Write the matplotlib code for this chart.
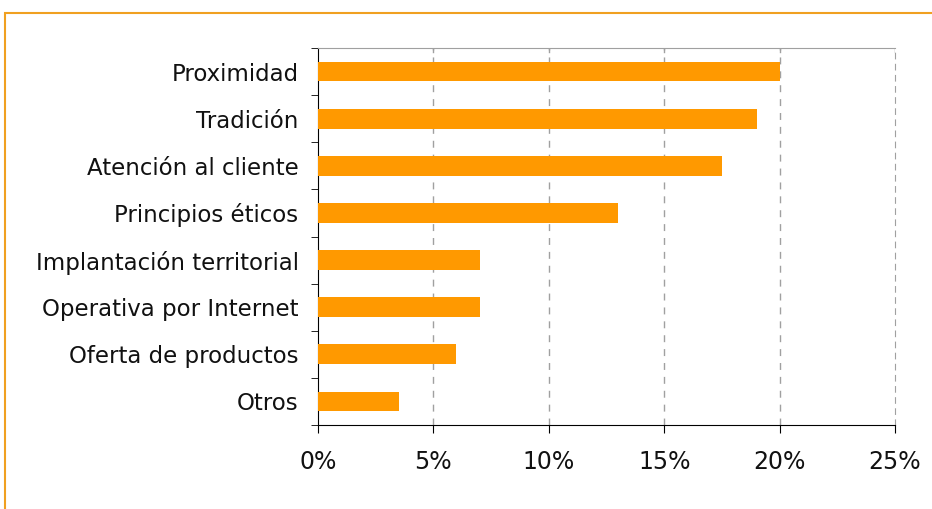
import matplotlib.pyplot as plt
import matplotlib.patches as patches
import numpy as np

categories = ['Proximidad', 'Tradición', 'Atención al cliente', 'Principios éticos',
              'Implantación territorial', 'Operativa por Internet', 'Oferta de productos', 'Otros']
values = [20, 19, 17.5, 13, 7, 7, 6, 3.5]
xticks = [0, 5, 10, 15, 20, 25]
xlabels = ['0%', '5%', '10%', '15%', '20%', '25%']

fig = plt.figure(figsize=(9.32, 5.09), dpi=100)
W, H = 932, 509

# orange frame (top and left visible)
fig.patches.append(patches.Rectangle((5 / W, -0.1), 1.2, (H - 13) / H + 0.1,
                                     transform=fig.transFigure, fill=False,
                                     edgecolor='#f0a020', linewidth=1.5))

ax = fig.add_axes([318 / W, 1 - 425 / H, (895 - 318) / W, (425 - 48) / H])
y = np.arange(len(categories))
ax.barh(y, values, height=0.42, color='#ff9900', zorder=3)
ax.set_ylim(len(categories) - 0.5, -0.5)
ax.set_xlim(0, 25)

ax.set_yticks(y)
ax.set_yticklabels(categories, fontsize=16.5, color='#111111')
ax.tick_params(axis='y', length=0, pad=14)
ax.set_yticks(np.arange(-0.5, len(categories), 1), minor=True)
ax.tick_params(axis='y', which='minor', length=5, direction='out', color='black')

ax.set_xticks(xticks)
ax.set_xticklabels(xlabels, fontsize=17, color='#111111')
ax.tick_params(axis='x', length=6, direction='out', color='black', pad=12)

for v in xticks[1:-1]:
    ax.axvline(v, color='#a0a0a0', linestyle=(0, (5, 5)), linewidth=1, zorder=1)
for v in xticks[1:]:
    ax.plot([v, v], [-0.5, -0.42], color='#a0a0a0', linewidth=1, zorder=2)

ax.spines['top'].set_color('#a0a0a0')
ax.spines['right'].set_color('#a0a0a0')
ax.spines['right'].set_linestyle((0, (5, 5)))
ax.spines['left'].set_color('black')
ax.spines['bottom'].set_color('black')

fig.savefig('out.png', dpi=100)
